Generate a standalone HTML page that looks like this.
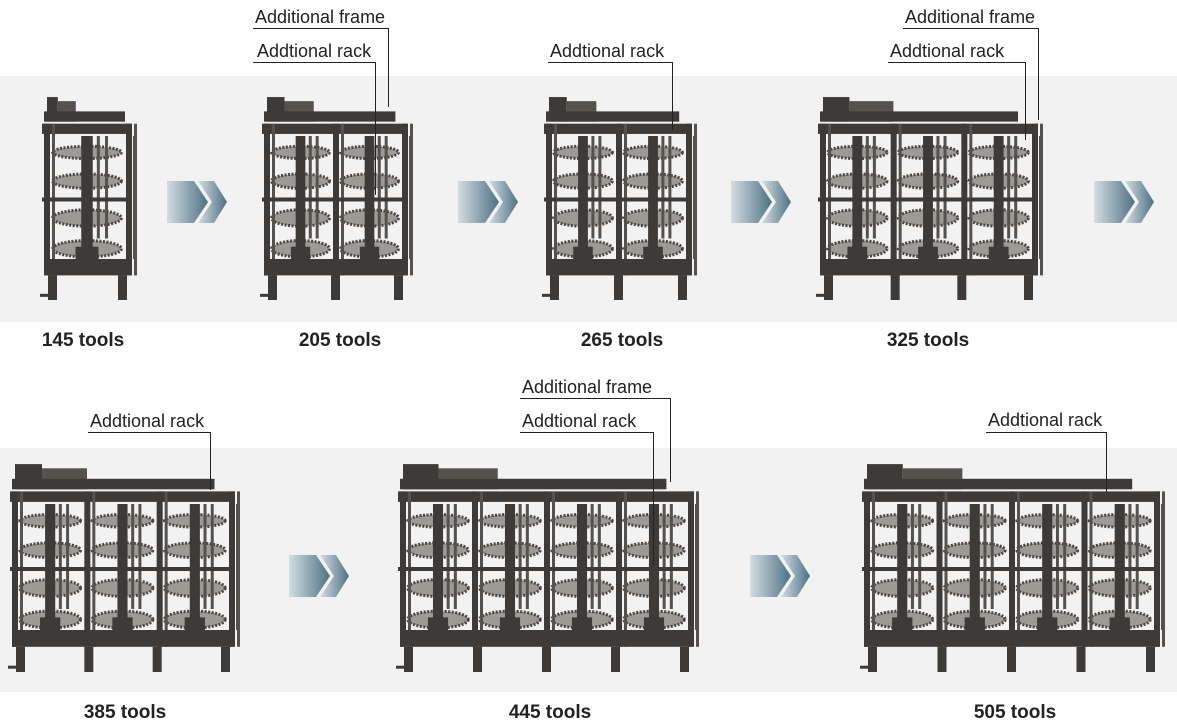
<!DOCTYPE html>
<html><head><meta charset="utf-8">
<style>
html,body{margin:0;padding:0;background:#fff;}
body{width:1177px;height:725px;position:relative;overflow:hidden;font-family:"Liberation Sans",Arial,sans-serif;}
.band{position:absolute;left:0;width:1177px;background:#f2f2f2;}
.t{position:absolute;font-size:18px;color:#222;white-space:nowrap;line-height:20px;}
.b{position:absolute;font-size:19px;font-weight:bold;color:#222;white-space:nowrap;line-height:20px;transform:translateX(-50%);}
svg{position:absolute;left:0;top:0;}
</style></head><body>
<div class="band" style="top:76px;height:246px"></div>
<div class="band" style="top:448px;height:244px"></div>
<svg id="s" width="1177" height="725" xmlns="http://www.w3.org/2000/svg">
<defs>
<linearGradient id="g" x1="0" x2="1" y1="0" y2="0"><stop offset="0" stop-color="#d3dde3"/><stop offset="1" stop-color="#4e7182"/></linearGradient>
</defs>
</svg>
<div class="t" style="left:255px;top:7px">Additional frame</div>
<div class="t" style="left:257px;top:41px">Addtional rack</div>
<div class="t" style="left:550px;top:41px">Addtional rack</div>
<div class="t" style="left:905px;top:7px">Additional frame</div>
<div class="t" style="left:890px;top:41px">Addtional rack</div>
<div class="t" style="left:90px;top:411px">Addtional rack</div>
<div class="t" style="left:522px;top:377px">Additional frame</div>
<div class="t" style="left:522px;top:411px">Addtional rack</div>
<div class="t" style="left:988px;top:410px">Addtional rack</div>
<div class="b" style="left:83px;top:331px">145 tools</div>
<div class="b" style="left:340px;top:331px">205 tools</div>
<div class="b" style="left:622px;top:331px">265 tools</div>
<div class="b" style="left:928px;top:331px">325 tools</div>
<div class="b" style="left:125px;top:703px">385 tools</div>
<div class="b" style="left:550px;top:703px">445 tools</div>
<div class="b" style="left:1015px;top:703px">505 tools</div>
<script>
var s=document.getElementById('s'),o='';
function R(x,y,w,h,c){o+='<rect x="'+x+'" y="'+y+'" width="'+w+'" height="'+h+'" fill="'+c+'"/>';}
function E(cx,cy,rx,ry){o+='<ellipse cx="'+cx+'" cy="'+cy+'" rx="'+rx+'" ry="'+ry+'" fill="#9d9995" stroke="#4a4643" stroke-width="3" stroke-dasharray="2 1.5"/>';}
var D='#3d3a37',D2='#55514d';
function M(x,y,w,h,n){
 var fy=y+0.14*h, fb=y+0.88*h;
 R(x+5,y+0.01*h,w*0.12,0.12*h,D);
 R(x+5+w*0.12,y+0.03*h,w*0.2,0.1*h,D2);
 R(x+2,y+0.08*h,w*0.9,0.05*h,D);
 R(x,fy,w,0.05*h,D);
 var bw=(w-8)/n;
 for(var i=0;i<n;i++){
  var bx=x+4+i*bw, cx=bx+bw/2;
  var r=bw*0.42;
  E(cx,y+0.28*h,r,0.03*h);E(cx,y+0.42*h,r,0.035*h);E(cx,y+0.6*h,r,0.04*h);E(cx,y+0.75*h,r,0.04*h);
  R(cx-bw*0.07,y+0.2*h,bw*0.14,0.6*h,D);
  R(cx+bw*0.12,y+0.2*h,3,0.5*h,D2);R(cx+bw*0.22,y+0.2*h,3,0.5*h,D2);
  R(cx-bw*0.14,y+0.74*h,bw*0.28,0.12*h,D);
 }
 for(var i=0;i<=n;i++){var bx=x+2+i*bw;R(bx,fy,6,fb-fy,D);R(bx+8,fy,3,fb-fy,D2);}
 R(x,y+0.5*h,w,4,D);
 R(x+2,y+0.8*h,w-4,0.08*h,D);
 for(var i=0;i<=n;i++){var bx=x+6+i*(w-20)/n;R(bx,y+0.88*h,9,0.12*h,D);}
 R(x-2,y+0.97*h,10,3,D);
 R(x+w+1,y+0.2*h,3,0.6*h,D2);
}
M(42,95,90,205,1);
M(262,95,146,205,2);
M(544,95,148,205,2);
M(818,95,220,205,3);
M(10,462,225,210,3);
M(398,462,296,210,4);
M(862,462,298,210,4);
function A(x,y){
 o+='<path fill="url(#g)" d="M'+x+' '+y+'h27l14 21l-14 21h-27z"/>';
 o+='<path fill="url(#g)" d="M'+(x+31)+' '+y+'h16l13 21l-13 21h-16l14 -21z"/>';
}
A(167,181);A(458,181);A(731,181);A(1094,181);A(289,555);A(750,555);
function L(x1,y1,x2,y2){o+='<path d="M'+x1+' '+y1+'H'+x2+'V'+y2+'" fill="none" stroke="#222" stroke-width="1"/>';}
L(253,28.5,388.5,107);L(253,62.5,375.5,195);
L(548,62.5,672.5,130);
L(903,28.5,1038.5,120);L(888,62.5,1025.5,140);
L(88,432.5,210.5,490);
L(520,398.5,670.5,482);L(520,432.5,653.5,565);
L(986,432.5,1106.5,492);
s.innerHTML+=o;
</script>
</body></html>
